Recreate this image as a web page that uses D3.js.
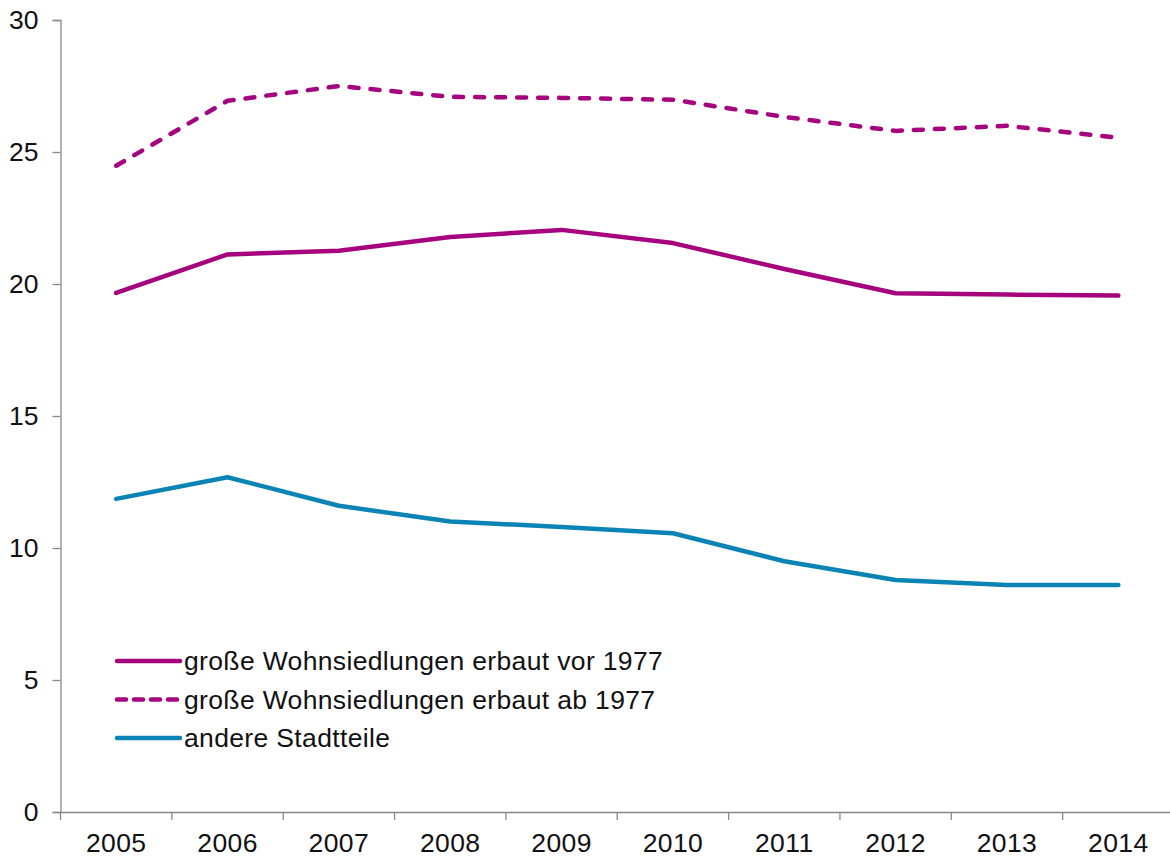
<!DOCTYPE html>
<html><head><meta charset="utf-8">
<script src="https://cdn.jsdelivr.net/npm/d3@7"></script>
<style>body{margin:0;background:#fff}svg{display:block;font-family:"Liberation Sans",Arial,sans-serif}</style>
</head><body>
<svg id="c" width="1170" height="858"></svg>
<script>
const years = ["2005","2006","2007","2008","2009","2010","2011","2012","2013","2014"];
const vor1977 = [19.66,21.12,21.26,21.78,22.05,21.55,20.57,19.65,19.6,19.56];
const ab1977 = [24.48,26.94,27.5,27.09,27.05,26.98,26.33,25.8,25.99,25.54];
const andere = [11.86,12.68,11.6,11.0,10.8,10.56,9.5,8.79,8.6,8.6];
const yTicks = [0,5,10,15,20,25,30];
const seriesNames = ["große Wohnsiedlungen erbaut vor 1977","große Wohnsiedlungen erbaut ab 1977","andere Stadtteile"];

const magenta = "#a6047e", blue = "#0a84b4";
const series = [
  {name: seriesNames[0], values: vor1977, color: magenta, dash: null},
  {name: seriesNames[1], values: ab1977, color: magenta, dash: "9,12"},
  {name: seriesNames[2], values: andere, color: blue, dash: null}
];
const FS = 26.5;

const svg = d3.select("#c");
const x = d3.scaleBand().domain(years).range([60.5, 1174]);
const y = d3.scaleLinear().domain([0,30]).range([812, 20]);

// y axis
const ya = svg.append("g").attr("transform","translate(60.5,0)")
  .call(d3.axisLeft(y).tickValues(yTicks).tickSize(8).tickPadding(14));
ya.select(".domain").attr("stroke","#888").attr("stroke-width",1.3);
ya.selectAll(".tick line").attr("stroke","#888").attr("stroke-width",1.3);
ya.selectAll("text").attr("font-size",FS).attr("fill","#111").attr("font-family","Liberation Sans, Arial, sans-serif");

// x axis
const xa = svg.append("g").attr("transform","translate(0,812)")
  .call(d3.axisBottom(x).tickSize(0).tickPadding(21));
xa.select(".domain").attr("stroke","#888").attr("stroke-width",1.3);
xa.selectAll("text").attr("font-size",FS).attr("fill","#111").attr("letter-spacing","0.4px").attr("font-family","Liberation Sans, Arial, sans-serif");
// boundary ticks between categories
const bounds = years.map(d => x(d)).concat([x(years[years.length-1]) + x.bandwidth()]);
xa.selectAll("line.bt").data(bounds).enter().append("line").attr("class","bt")
  .attr("x1", d=>d).attr("x2", d=>d).attr("y1",0).attr("y2",8)
  .attr("stroke","#888").attr("stroke-width",1.3);

const line = d3.line().x((d,i)=>x(years[i]) + x.bandwidth()/2).y(d=>y(d));
series.forEach(s => {
  svg.append("path").datum(s.values).attr("d", line)
    .attr("fill","none").attr("stroke", s.color).attr("stroke-width",4.5)
    .attr("stroke-linejoin","round").attr("stroke-linecap","round")
    .attr("stroke-dasharray", s.dash);
});

// legend
const lg = svg.append("g");
series.forEach((s,i) => {
  const yy = 661 + i*38.5;
  lg.append("line").attr("x1",117).attr("x2",180).attr("y1",yy).attr("y2",yy)
    .attr("stroke", s.color).attr("stroke-width",4.5).attr("stroke-linecap","round")
    .attr("stroke-dasharray", s.dash ? "9,8" : null);
  lg.append("text").attr("x",184).attr("y",yy).attr("dy","0.35em")
    .attr("font-size",FS).attr("letter-spacing","0.35px").attr("fill","#111").text(s.name);
});
</script>
</body></html>
